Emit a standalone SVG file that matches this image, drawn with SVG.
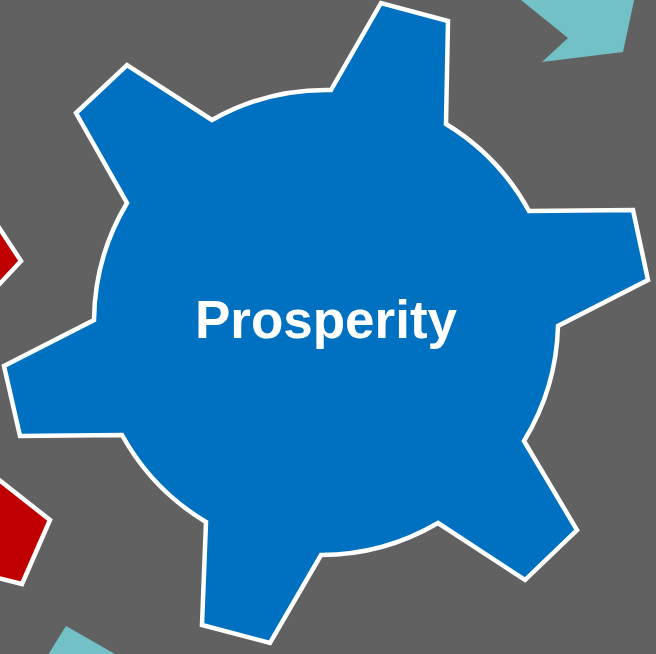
<svg xmlns="http://www.w3.org/2000/svg" width="656" height="654" viewBox="0 0 656 654">
  <style>
    .teal { fill: #71C1C7; }
    .red { fill: #C00000; stroke: #FFFFFF; stroke-width: 4.5; stroke-linejoin: miter; }
    .gear { fill: #0070C0; stroke: #FFFFFF; stroke-width: 4.5; stroke-linejoin: miter; }
    .label { font-family: "Liberation Sans", Arial, sans-serif; font-weight: bold; font-size: 53px; fill: #FFFFFF; }
  </style>
  <rect x="0" y="0" width="656" height="654" fill="#616161"/>
  <g id="teal-arrow-top">
    <polygon class="teal" points="516,-4 568,38 542,62 623,52 635,-4"/>
  </g>
  <g id="teal-arrow-bottom">
    <polygon class="teal" points="46,658 66,626 122,658"/>
  </g>
  <g id="red-gear-upper">
    <polygon class="red" points="-6,220 21,261 -6,290"/>
  </g>
  <g id="red-gear-lower">
    <polygon class="red" points="-6,476 50,520 22,584 -6,577"/>
  </g>
  <g id="gear-prosperity">
    <path class="gear" d="M331,90 L381,3 L448,21 L446,124 A232,232 0 0 1 529,211 L633,210 L648,280 L558,326 A232,232 0 0 1 524,441 L577,530 L525,580 L438,523 A232,232 0 0 1 321,555 L270,643 L202,625 L206,522 A232,232 0 0 1 122,435 L20,436 L4,366 L94,320 A232,232 0 0 1 127,203 L76,113 L127,65 L212,120 A232,232 0 0 1 331,90 Z"/>
    <text class="label" x="326" y="338" text-anchor="middle">Prosperity</text>
  </g>
</svg>
